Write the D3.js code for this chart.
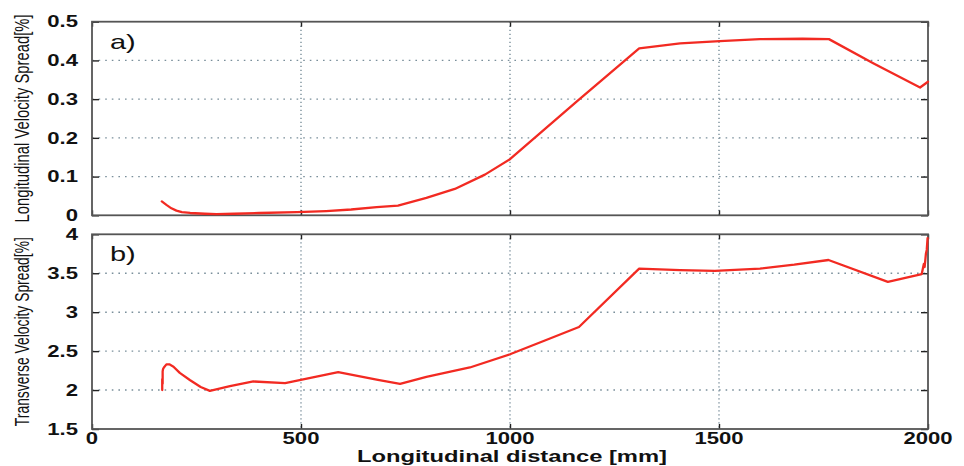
<!DOCTYPE html>
<html>
<head>
<meta charset="utf-8">
<script src="https://cdn.jsdelivr.net/npm/d3@7"></script>
<style>
  html, body { margin: 0; padding: 0; background: #fff; }
  svg { display: block; }
  text { font-family: "Liberation Sans", Arial, sans-serif; fill: #111; }
</style>
</head>
<body>
<svg id="chart" width="964" height="466"></svg>
<script>
// Longitudinal distance [mm] shared by both panels
const xTicks = [0, 500, 1000, 1500, 2000];

// Panel a) longitudinal velocity spread [%]
const distA = [167, 178, 190, 202, 215, 235, 270, 298, 340, 400, 490, 560, 620, 681, 732, 800, 868, 940, 1000, 1160, 1309, 1407, 1502, 1598, 1700, 1763, 1870, 1981, 2000];
const spreadA = [0.036, 0.027, 0.018, 0.012, 0.008, 0.006, 0.004, 0.003, 0.004, 0.006, 0.008, 0.011, 0.015, 0.021, 0.025, 0.045, 0.068, 0.105, 0.145, 0.294, 0.431, 0.444, 0.450, 0.455, 0.456, 0.455, 0.392, 0.330, 0.345];
const yTicksA = [0, 0.1, 0.2, 0.3, 0.4, 0.5];

// Panel b) transverse velocity spread [%]
const distB = [168, 168, 169, 169, 170, 172, 178, 185, 195, 210, 234, 260, 282, 330, 386, 462, 589, 684, 737, 800, 904, 1000, 1085, 1165, 1309, 1407, 1490, 1598, 1680, 1762, 1904, 1985, 1990, 1992, 1995, 1997, 1999];
const spreadB = [2.00, 2.14, 2.08, 2.24, 2.27, 2.29, 2.33, 2.33, 2.30, 2.22, 2.13, 2.04, 1.99, 2.05, 2.11, 2.09, 2.23, 2.13, 2.08, 2.17, 2.29, 2.46, 2.64, 2.81, 3.56, 3.54, 3.53, 3.56, 3.61, 3.67, 3.39, 3.49, 3.62, 3.58, 3.75, 3.80, 3.95];
const yTicksB = [1.5, 2, 2.5, 3, 3.5, 4];

const svg = d3.select("#chart");
const SX = 1.38;               // horizontal text stretch
const left = 92, right = 928;
const lineColor = "#f22a22";
const gridColor = "#7a8f9b";
const frameColor = "#555";

const x = d3.scaleLinear().domain([0, 2000]).range([left, right]);
const numFmt = d => (d === 0 ? "0" : (d % 1 === 0 ? String(d) : d.toFixed(1)));

const panels = [
  { dist: distA, vals: spreadA, ticks: yTicksA, domain: [0, 0.5], top: 21.7, bottom: 215.3,
    tag: "a)", title: "Longitudinal Velocity Spread[%]", titleLen: 208, xLabels: false },
  { dist: distB, vals: spreadB, ticks: yTicksB, domain: [1.5, 4], top: 234.3, bottom: 429,
    tag: "b)", title: "Transverse Velocity Spread[%]", titleLen: 189, xLabels: true }
];

panels.forEach(p => {
  const y = d3.scaleLinear().domain(p.domain).range([p.bottom, p.top]);
  const g = svg.append("g");

  // dotted grid lines (interior only)
  g.append("g").selectAll("line.h").data(p.ticks.slice(1, -1)).join("line")
    .attr("x1", left).attr("x2", right)
    .attr("y1", d => y(d)).attr("y2", d => y(d))
    .attr("stroke", gridColor).attr("stroke-width", 1.4)
    .attr("stroke-dasharray", "1.6,5");
  g.append("g").selectAll("line.v").data(xTicks.slice(1, -1)).join("line")
    .attr("x1", d => x(d)).attr("x2", d => x(d))
    .attr("y1", p.top).attr("y2", p.bottom)
    .attr("stroke", gridColor).attr("stroke-width", 1.4)
    .attr("stroke-dasharray", "1.2,2.8");

  // inward tick marks on all four sides
  const axL = d3.axisRight(y).tickValues(p.ticks).tickSize(7).tickFormat("");
  const axR = d3.axisLeft(y).tickValues(p.ticks).tickSize(7).tickFormat("");
  const axB = d3.axisTop(x).tickValues(xTicks).tickSize(5).tickFormat("");
  const axT = d3.axisBottom(x).tickValues(xTicks).tickSize(5).tickFormat("");
  [[axL, `translate(${left},0)`], [axR, `translate(${right},0)`],
   [axB, `translate(0,${p.bottom})`], [axT, `translate(0,${p.top})`]].forEach(([ax, tr]) => {
    const a = g.append("g").attr("transform", tr).call(ax);
    a.select(".domain").remove();
    a.selectAll("line").attr("stroke", "#222").attr("stroke-width", 1.4);
  });

  // frame
  g.append("rect")
    .attr("x", left).attr("y", p.top)
    .attr("width", right - left).attr("height", p.bottom - p.top)
    .attr("fill", "none").attr("stroke", frameColor).attr("stroke-width", 1.8);

  // y tick labels
  g.append("g").selectAll("text").data(p.ticks).join("text")
    .attr("transform", d => `translate(${left - 14},${y(d)}) scale(${SX},1)`)
    .attr("dy", "0.36em")
    .attr("text-anchor", "end")
    .attr("font-size", 16)
    .attr("font-weight", "bold")
    .text(numFmt);

  // data line
  const line = d3.line().x((d, i) => x(p.dist[i])).y(d => y(d));
  g.append("path")
    .attr("d", line(p.vals))
    .attr("fill", "none")
    .attr("stroke", lineColor)
    .attr("stroke-width", 2.3)
    .attr("stroke-linejoin", "round")
    .attr("stroke-linecap", "round");

  // panel tag
  g.append("text")
    .attr("transform", `translate(${x(0) + 18},${p.top + 27}) scale(${SX},1)`)
    .attr("font-size", 21)
    .text(p.tag);

  // y title
  g.append("text")
    .attr("transform", `translate(29,${(p.top + p.bottom) / 2}) scale(${SX},1) rotate(-90)`)
    .attr("text-anchor", "middle")
    .attr("font-size", 15)
    .attr("textLength", p.titleLen)
    .attr("lengthAdjust", "spacingAndGlyphs")
    .text(p.title);

  // x tick labels on the lower panel
  if (p.xLabels) {
    g.append("g").selectAll("text").data(xTicks).join("text")
      .attr("transform", d => `translate(${x(d)},${p.bottom + 15}) scale(${SX},1)`)
      .attr("text-anchor", "middle")
      .attr("font-size", 16)
      .attr("font-weight", "bold")
      .text(d => d);
  }
});

// x title
svg.append("text")
  .attr("x", 512).attr("y", 462)
  .attr("text-anchor", "middle")
  .attr("font-size", 16)
  .attr("font-weight", "bold")
  .attr("textLength", 310)
  .attr("lengthAdjust", "spacingAndGlyphs")
  .text("Longitudinal distance [mm]");
</script>
</body>
</html>
